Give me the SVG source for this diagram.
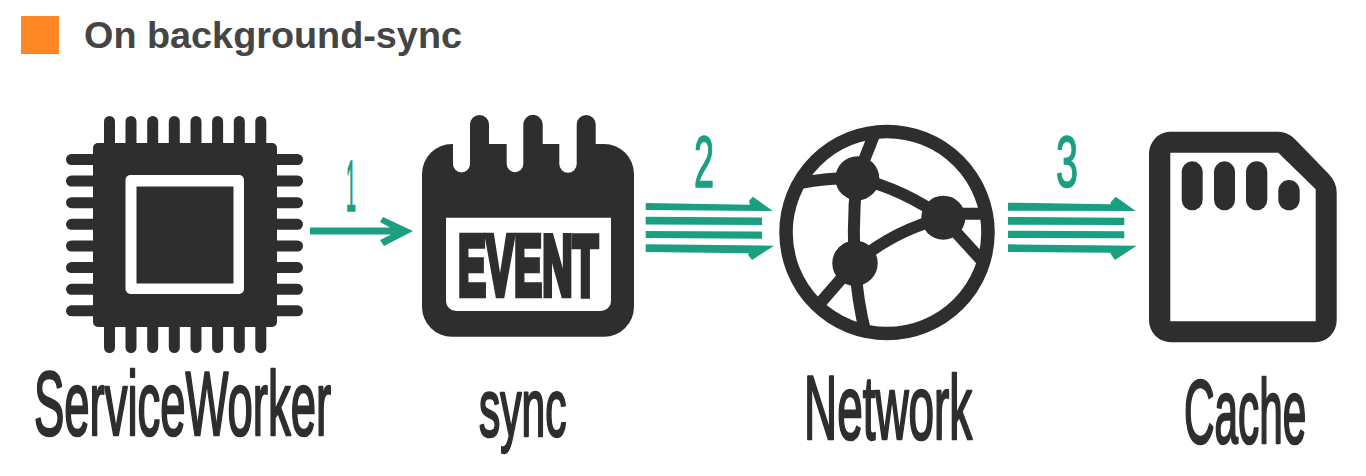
<svg xmlns="http://www.w3.org/2000/svg" width="1366" height="476" viewBox="0 0 1366 476">
<style>
.d{fill:#2e2e2e}
.w{fill:#fff}
.t{fill:#1a9f80}
.pin{stroke:#2e2e2e;stroke-width:11;stroke-linecap:round;fill:none}
.net{stroke:#2e2e2e;stroke-width:12;fill:none}
.lab{font-family:"Liberation Sans",Arial,sans-serif;font-size:90px;fill:#2e2e2e;stroke:#2e2e2e;stroke-width:2;stroke-linejoin:round;vector-effect:non-scaling-stroke}
.num{font-family:"Liberation Sans",Arial,sans-serif;font-size:72px;fill:#1a9f80;stroke:#1a9f80;stroke-width:1.200;stroke-linejoin:round;vector-effect:non-scaling-stroke}
</style>
<rect width="1366" height="476" fill="#fff"/>
<g id="title">
<rect x="21" y="16" width="38" height="38" fill="#ff8625"/>
<text x="84" y="47.500" textLength="378" lengthAdjust="spacingAndGlyphs" style="font-family:'Liberation Sans',Arial,sans-serif;font-weight:700;font-size:37px;fill:#454545">On background-sync</text>
</g>
<g id="serviceworker">
<path class="pin" d="M109.500 121.500V150M131 121.500V150M152.700 121.500V150M174.300 121.500V150M196 121.500V150M217.600 121.500V150M239.300 121.500V150M260.800 121.500V150M109.500 347.500V320M131 347.500V320M152.700 347.500V320M174.300 347.500V320M196 347.500V320M217.600 347.500V320M239.300 347.500V320M260.800 347.500V320M71.500 159.500H100M71.500 181H100M71.500 202.700H100M71.500 224.300H100M71.500 246H100M71.500 267.600H100M71.500 289.300H100M71.500 310.800H100M297.500 159.500H270M297.500 181H270M297.500 202.700H270M297.500 224.300H270M297.500 246H270M297.500 267.600H270M297.500 289.300H270M297.500 310.800H270"/>
<rect class="d" x="93" y="143" width="184" height="184" rx="5"/>
<rect class="w" x="125.500" y="175" width="118.500" height="119" rx="5"/>
<rect class="d" x="136.500" y="186.500" width="97" height="97"/>
<text class="lab" transform="translate(34 435) scale(.505 1)">ServiceWorker</text>
</g>
<g id="sync">
<path class="d" d="M453 144V164A8.500 8.500 0 0 0 470 164V124.500A9.500 9.500 0 0 1 489 124.500V144H506.700V164A8.300 8.300 0 0 0 523.300 164V124.500A9.700 9.700 0 0 1 542.700 124.500V144H559.300V164A8.700 8.700 0 0 0 576.700 164V124.500A9.500 9.500 0 0 1 595.700 124.500V144H604A30 30 0 0 1 634 174V306.700A30 30 0 0 1 604 336.700H452A30 30 0 0 1 422 306.700V174A30 30 0 0 1 452 144Z"/>
<path class="w" d="M446 217.700H611V301A10 10 0 0 1 601 311H456A10 10 0 0 1 446 301Z"/>
<text transform="translate(458 294.500) scale(.495 1)" style="font-family:'Liberation Sans',Arial,sans-serif;font-weight:700;font-size:85px;fill:#2e2e2e;stroke:#2e2e2e;stroke-width:5;vector-effect:non-scaling-stroke">EVENT</text>
<text class="lab" transform="translate(479 436) scale(.473 .9)">sync</text>
</g>
<g id="network">
<circle cx="887" cy="232.500" r="101" fill="none" stroke="#2e2e2e" stroke-width="13.500"/>
<path class="net" d="M800 183Q825 178 857 178M857 178Q905 190 943 218M943 213.700H985M943 218L984 263M876 130L857 178M857 178Q852 220 855 263M855 263Q895 230 943 218M855 263L815 309M855 263Q857 300 866 335"/>
<circle class="d" cx="857.300" cy="178.300" r="22"/>
<circle class="d" cx="943.300" cy="217.700" r="22"/>
<circle class="d" cx="855" cy="263.300" r="22.700"/>
<text class="lab" transform="translate(804 439) scale(.51 1)">Network</text>
</g>
<g id="cache">
<path class="d" fill-rule="evenodd" d="M1170 131.700H1278Q1288 131.700 1295 139.300L1328 173.300Q1336.700 182 1336.700 193V320A22 22 0 0 1 1315 342.300H1171A22 22 0 0 1 1149 320V153A22 22 0 0 1 1170 131.700ZM1170.300 152.700V321.300H1315.700V189.300L1278.300 152.700Z"/>
<rect class="d" x="1181.700" y="161.300" width="21" height="49" rx="10.500"/>
<rect class="d" x="1214" y="161.300" width="21" height="49" rx="10.500"/>
<rect class="d" x="1246" y="161.300" width="21.300" height="49" rx="10.600"/>
<rect class="d" x="1278.300" y="180" width="21.400" height="30.300" rx="10.700"/>
<text class="lab" transform="translate(1184 443) scale(.47 1)">Cache</text>
</g>
<g id="connectors">
<path class="t" d="M310 227.500H390L380 222L383 217L413 231L384 246L380 240L391 234.500H310Z"/>
<path class="t" d="M645.700 203L750 204.700L749 200.700L753 196.700L772.700 211L645.700 210ZM645.700 216.700L762 217.500V225L645.700 224.500ZM645.700 231L762 231.500V238.700L645.700 238ZM645.700 244.300L774 245.700L752 260L748 254.700L749 253.200L645.700 252Z"/>
<path class="t" d="M1008 202.700L1110.700 204.200V202.300L1115.700 196.700L1135.700 211L1008 210.700ZM1008 217L1124.300 217.700V225L1008 224.700ZM1008 230.700L1124.300 231.300V238.300L1008 238ZM1008 244.300L1136.700 245.700L1115 260L1110.700 254V252.700L1008 252Z"/>
<text class="num" transform="translate(346 211) scale(.25 1)">1</text>
<text class="num" transform="translate(694 187) scale(.5 1)">2</text>
<text class="num" transform="translate(1056 187) scale(.55 1)">3</text>
</g>
</svg>
